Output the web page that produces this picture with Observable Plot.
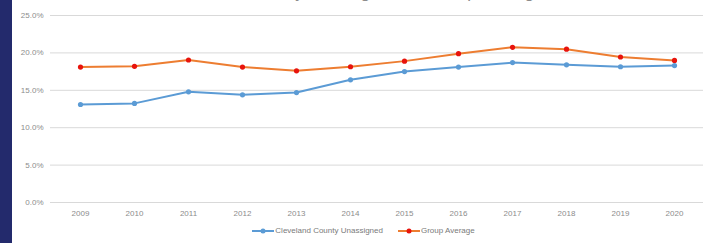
<!DOCTYPE html>
<html>
<head>
<meta charset="utf-8">
<script src="https://cdn.jsdelivr.net/npm/d3@7"></script>
<script src="https://cdn.jsdelivr.net/npm/@observablehq/plot@0.6"></script>
<style>
  html, body { margin: 0; padding: 0; background: #fff; width: 713px; height: 243px; overflow: hidden; }
  #wrap { position: relative; width: 713px; height: 243px; font-family: "Liberation Sans", "DejaVu Sans", sans-serif; }
  #bar { position: absolute; left: 0; top: 0; width: 12px; height: 243px; background: #232a6c; }
  #title { position: absolute; left: 0; width: 713px; top: -17px; text-align: center; font-size: 17px; color: #8c8c8c; white-space: nowrap; }
  #chart { position: absolute; left: 0; top: 0; }
  #legend { position: absolute; top: 226px; left: 7px; width: 713px; display: flex; justify-content: center; gap: 15px; font-size: 8px; color: #7a7a7a; }
  #legend span.item { display: flex; align-items: center; gap: 1px; }
</style>
</head>
<body>
<div id="wrap">
  <div id="title">Cleveland County Unassigned vs. Group Average</div>
  <div id="chart"></div>
  <div id="bar"></div>
  <div id="legend"></div>
</div>
<script>
const years = ["2009","2010","2011","2012","2013","2014","2015","2016","2017","2018","2019","2020"];
const clevelandValues = [13.1, 13.25, 14.8, 14.4, 14.7, 16.4, 17.5, 18.1, 18.7, 18.4, 18.15, 18.3];
const groupValues = [18.1, 18.2, 19.05, 18.1, 17.6, 18.15, 18.9, 19.9, 20.75, 20.5, 19.45, 19.0];
const yTicks = [0, 5, 10, 15, 20, 25];
const seriesNames = ["Cleveland County Unassigned", "Group Average"];
const lineColors = ["#5b9bd5", "#ed7d31"];
const markerColors = ["#5b9bd5", "#e8140c"];

const rows = [];
years.forEach((y, i) => {
  rows.push({year: y, value: clevelandValues[i], series: seriesNames[0]});
  rows.push({year: y, value: groupValues[i], series: seriesNames[1]});
});

const plot = Plot.plot({
  width: 713,
  height: 222,
  marginLeft: 50,
  marginRight: 10,
  marginTop: 15,
  marginBottom: 20,
  style: {background: "transparent", fontFamily: "Liberation Sans, sans-serif", fontSize: "8px", color: "#8c8c8c"},
  x: {type: "point", domain: years, padding: 0.5, label: null},
  y: {domain: [0, 25], ticks: yTicks, label: null},
  color: {domain: seriesNames, range: lineColors},
  marks: [
    Plot.gridY(yTicks, {stroke: "#d9d9d9", strokeOpacity: 1, strokeWidth: 1}),
    Plot.axisY(yTicks, {tickSize: 0, tickPadding: 7, tickFormat: d => d.toFixed(1) + "%", fill: "#8c8c8c", fontSize: 8}),
    Plot.axisX({tickSize: 0, tickPadding: 8, fill: "#8c8c8c", fontSize: 8}),
    Plot.line(rows, {x: "year", y: "value", z: "series", stroke: "series", strokeWidth: 2}),
    Plot.dot(rows, {x: "year", y: "value", fill: d => markerColors[seriesNames.indexOf(d.series)], r: 2.6, stroke: "none"})
  ]
});
document.getElementById("chart").appendChild(plot);

const legend = document.getElementById("legend");
seriesNames.forEach((name, i) => {
  const item = document.createElement("span");
  item.className = "item";
  item.innerHTML = `<svg width="22" height="8"><line x1="0" y1="4" x2="22" y2="4" stroke="${lineColors[i]}" stroke-width="2"/><circle cx="11" cy="4" r="2.5" fill="${markerColors[i]}"/></svg><span>${name}</span>`;
  legend.appendChild(item);
});
</script>
</body>
</html>
